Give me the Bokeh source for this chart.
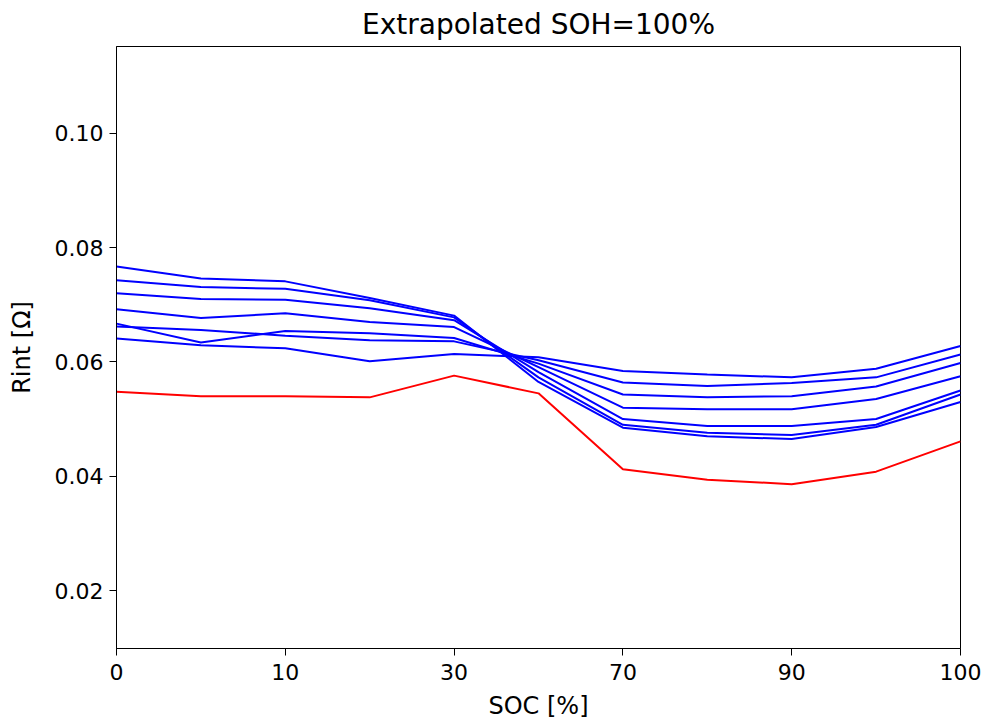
from bokeh.plotting import figure
from bokeh.models import FixedTicker, PrintfTickFormatter, Range1d
from bokeh.embed import file_html
from bokeh.resources import INLINE

# SOC breakpoints (index positions are evenly spaced on the axis)
soc = [0, 5, 10, 20, 30, 50, 70, 80, 90, 95, 100]
tick_positions = [0, 2, 4, 6, 8, 10]
tick_labels = ["0", "10", "30", "70", "90", "100"]

# Internal resistance curves [Ohm]
rint_1 = [0.0767, 0.0746, 0.0741, 0.0712, 0.0681, 0.0565, 0.0485, 0.0470, 0.0465, 0.0486, 0.0530]
rint_2 = [0.0743, 0.0731, 0.0728, 0.0708, 0.0678, 0.0573, 0.0490, 0.0476, 0.0472, 0.0490, 0.0543]
rint_3 = [0.0720, 0.0710, 0.0709, 0.0694, 0.0673, 0.0582, 0.0500, 0.0488, 0.0488, 0.0500, 0.0550]
rint_4 = [0.0692, 0.0677, 0.0685, 0.0670, 0.0661, 0.0591, 0.0520, 0.0517, 0.0517, 0.0535, 0.0575]
rint_5 = [0.0667, 0.0634, 0.0654, 0.0650, 0.0642, 0.0597, 0.0543, 0.0538, 0.0540, 0.0557, 0.0598]
rint_6 = [0.0662, 0.0656, 0.0646, 0.0638, 0.0636, 0.0603, 0.0564, 0.0558, 0.0563, 0.0573, 0.0613]
rint_7 = [0.0641, 0.0629, 0.0624, 0.0601, 0.0614, 0.0608, 0.0584, 0.0578, 0.0573, 0.0588, 0.0628]
rint_red = [0.0548, 0.0540, 0.0540, 0.0538, 0.0576, 0.0545, 0.0412, 0.0394, 0.0386, 0.0408, 0.0461]

blue_series = [rint_1, rint_2, rint_3, rint_4, rint_5, rint_6, rint_7]
y_ticks = [0.02, 0.04, 0.06, 0.08, 0.10]

FONT = "DejaVu Sans"

p = figure(width=984, height=724, output_backend="svg", toolbar_location=None,
           title="Extrapolated SOH=100%",
           x_range=Range1d(0, len(soc) - 1), y_range=Range1d(0.00985, 0.1152),
           min_border_left=116, min_border_right=24, min_border_top=46, min_border_bottom=76)

idx = list(range(len(soc)))
for s in blue_series:
    p.line(idx, s, line_color="#0000ff", line_width=2)
p.line(idx, rint_red, line_color="#ff0000", line_width=2)

p.title.text_font = FONT
p.title.text_font_size = "28px"
p.title.text_font_style = "normal"
p.title.align = "center"
p.title.text_color = "#000000"
p.title.standoff = 11

p.xgrid.visible = False
p.ygrid.visible = False
p.outline_line_color = "#000000"
p.outline_line_alpha = 1
p.outline_line_width = 1

p.xaxis.ticker = FixedTicker(ticks=tick_positions)
p.xaxis.major_label_overrides = {t: l for t, l in zip(tick_positions, tick_labels)}
p.yaxis.ticker = FixedTicker(ticks=y_ticks)
p.yaxis.formatter = PrintfTickFormatter(format="%.2f")
p.xaxis.axis_label = "SOC [%]"
p.yaxis.axis_label = "Rint [Ω]"

for ax in [p.xaxis[0], p.yaxis[0]]:
    ax.axis_line_color = "#000000"
    ax.major_tick_line_color = "#000000"
    ax.major_tick_in = 0
    ax.major_tick_out = 7
    ax.minor_tick_line_color = None
    ax.major_label_standoff = 6
    ax.major_label_text_font = FONT
    ax.major_label_text_font_size = "22px"
    ax.major_label_text_color = "#000000"
    ax.axis_label_text_font = FONT
    ax.axis_label_text_font_size = "24px"
    ax.axis_label_text_font_style = "normal"
    ax.axis_label_text_color = "#000000"

p.xaxis.major_label_standoff = 8
p.yaxis.axis_label_standoff = 16
p.xaxis.axis_label_standoff = 9

open("out.html", "w").write(file_html(p, INLINE))
